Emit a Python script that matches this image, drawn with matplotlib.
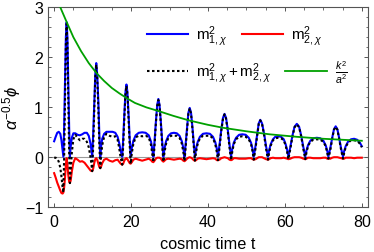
import matplotlib
matplotlib.use("Agg")
import matplotlib.pyplot as plt
import numpy as np
from matplotlib.ticker import MultipleLocator

# fonts / style close to the Mathematica look
plt.rcParams['font.family'] = 'Liberation Sans'
plt.rcParams['mathtext.fontset'] = 'custom'
plt.rcParams['mathtext.rm'] = 'Liberation Sans'
plt.rcParams['mathtext.it'] = 'Liberation Sans:italic'
plt.rcParams['mathtext.bf'] = 'Liberation Sans:bold'
plt.rcParams['axes.edgecolor'] = '#555555'
plt.rcParams['axes.linewidth'] = 0.8
plt.rcParams['xtick.color'] = '#555555'
plt.rcParams['ytick.color'] = '#555555'
plt.rcParams['xtick.labelcolor'] = 'black'
plt.rcParams['ytick.labelcolor'] = 'black'

# cosmic time samples
t = [0.0, 0.4, 0.8, 1.2, 1.6, 1.9, 2.2, 2.4,
     2.6, 2.85, 3.05, 3.25, 3.45, 3.65, 3.9, 4.1,
     4.3, 4.6, 5.0, 5.5, 6.1, 6.7, 7.3, 7.9, 8.5, 9.0, 9.5, 9.9,
     10.15, 10.45, 10.7, 10.95, 11.2, 11.5, 11.75, 12.0,
     12.2, 12.5, 13.0, 13.6, 14.4, 15.2, 15.9, 16.5, 16.9, 17.3, 17.7,
     17.95, 18.25, 18.55, 18.8, 19.05, 19.35, 19.65, 19.9,
     20.2, 20.6, 21.2, 22.0, 22.9, 23.8, 24.6, 25.2, 25.5, 25.8,
     26.1, 26.45, 26.8, 27.1, 27.4, 27.75, 28.1, 28.4,
     28.7, 29.1, 29.7, 30.4, 31.15, 31.9, 32.6, 33.2, 33.6, 33.9,
     34.2, 34.55, 34.9, 35.25, 35.6, 35.95, 36.3, 36.6,
     36.9, 37.3, 37.9, 38.7, 39.6, 40.5, 41.3, 41.9, 42.3, 42.6,
     43.0, 43.45, 43.9, 44.3, 44.7, 45.15, 45.6, 46.0,
     46.3, 46.7, 47.3, 48.1, 48.95, 49.8, 50.6, 51.2, 51.6, 51.9,
     52.35, 52.8, 53.2, 53.6, 54.05, 54.6, 55.1, 55.6,
     55.9, 56.3, 56.9, 57.5, 58.25, 59.0, 59.7, 60.2, 60.6, 60.9,
     61.4, 61.95, 62.5, 63.1, 63.7, 64.25, 64.8, 65.3,
     65.6, 66.0, 66.6, 67.4, 68.3, 69.2, 70.0, 70.6, 71.0, 71.3,
     71.8, 72.3, 72.75, 73.2, 73.65, 74.1, 74.6, 75.1,
     75.4, 75.8, 76.4, 77.2, 78.0, 78.8, 79.5, 80.0]

m1_sq = [0.31, 0.40, 0.48, 0.50, 0.46, 0.33, 0.12, 0.0,
         0.60, 1.60, 2.40, 2.70, 2.40, 1.60, 0.60, 0.0,
         0.20, 0.38, 0.47, 0.47, 0.44, 0.43, 0.45, 0.48, 0.48, 0.42, 0.25, 0.0,
         0.45, 1.10, 1.65, 1.88, 1.65, 1.10, 0.45, 0.0,
         0.20, 0.36, 0.46, 0.50, 0.50, 0.50, 0.48, 0.40, 0.28, 0.12, 0.0,
         0.35, 0.85, 1.30, 1.45, 1.30, 0.85, 0.35, 0.0,
         0.18, 0.32, 0.43, 0.48, 0.49, 0.48, 0.43, 0.30, 0.16, 0.0,
         0.30, 0.70, 1.04, 1.16, 1.04, 0.70, 0.30, 0.0,
         0.17, 0.31, 0.42, 0.47, 0.48, 0.47, 0.42, 0.31, 0.17, 0.0,
         0.27, 0.60, 0.88, 0.98, 0.88, 0.60, 0.27, 0.0,
         0.16, 0.29, 0.40, 0.46, 0.47, 0.46, 0.40, 0.29, 0.16, 0.0,
         0.24, 0.54, 0.78, 0.86, 0.78, 0.54, 0.24, 0.0,
         0.15, 0.28, 0.38, 0.44, 0.45, 0.44, 0.38, 0.28, 0.15, 0.0,
         0.21, 0.46, 0.67, 0.74, 0.67, 0.46, 0.21, 0.0,
         0.13, 0.25, 0.35, 0.40, 0.41, 0.40, 0.35, 0.25, 0.13, 0.0,
         0.19, 0.42, 0.60, 0.66, 0.60, 0.42, 0.19, 0.0,
         0.12, 0.23, 0.32, 0.37, 0.38, 0.37, 0.32, 0.23, 0.12, 0.0,
         0.17, 0.38, 0.55, 0.61, 0.55, 0.38, 0.17, 0.0,
         0.11, 0.21, 0.30, 0.35, 0.36, 0.34, 0.28, 0.21]

m2_sq = [-0.33, -0.42, -0.52, -0.60, -0.68, -0.73, -0.74, -0.72,
         -0.62, -0.40, -0.15, -0.03, -0.15, -0.35, -0.50, -0.53,
         -0.48, -0.30, -0.12, -0.03, -0.06, -0.10, -0.09, -0.12, -0.18, -0.23, -0.28, -0.29,
         -0.24, -0.12, -0.05, -0.03, -0.06, -0.14, -0.21, -0.23,
         -0.20, -0.13, -0.06, -0.04, -0.08, -0.10, -0.07, -0.06, -0.10, -0.14, -0.16,
         -0.14, -0.08, -0.04, -0.03, -0.05, -0.09, -0.13, -0.14,
         -0.11, -0.06, -0.04, -0.06, -0.08, -0.06, -0.04, -0.07, -0.10, -0.11,
         -0.08, -0.04, -0.02, -0.02, -0.02, -0.04, -0.08, -0.10,
         -0.08, -0.05, -0.04, -0.05, -0.06, -0.05, -0.04, -0.05, -0.08, -0.09,
         -0.07, -0.04, -0.02, -0.01, -0.02, -0.04, -0.07, -0.08,
         -0.07, -0.04, -0.03, -0.04, -0.05, -0.04, -0.03, -0.04, -0.07, -0.07,
         -0.06, -0.03, -0.02, -0.01, -0.02, -0.03, -0.06, -0.07,
         -0.06, -0.03, -0.03, -0.04, -0.04, -0.04, -0.03, -0.03, -0.05, -0.06,
         -0.05, -0.03, -0.01, -0.01, -0.01, -0.03, -0.05, -0.06,
         -0.05, -0.03, -0.02, -0.03, -0.03, -0.03, -0.02, -0.03, -0.04, -0.05,
         -0.04, -0.02, -0.01, -0.01, -0.01, -0.02, -0.04, -0.05,
         -0.04, -0.02, -0.02, -0.03, -0.03, -0.03, -0.02, -0.02, -0.04, -0.04,
         -0.04, -0.02, -0.01, -0.01, -0.01, -0.02, -0.03, -0.04,
         -0.04, -0.02, -0.02, -0.02, -0.03, -0.02, -0.02, -0.02]

# k^2/a^2 curve
t_k = [0.0, 0.8, 1.6, 3.0, 5.0, 7.0, 9.0, 11.0, 13.0, 15.0, 17.0, 19.0, 21.0,
       24.0, 27.0, 31.0, 35.0, 40.0, 44.0, 50.0, 56.0, 63.0, 70.0, 75.0, 80.0]
k2_a2 = [3.60, 3.25, 3.00, 2.75, 2.40, 2.12, 1.88, 1.68, 1.52, 1.38, 1.27, 1.17, 1.08,
         0.99, 0.92, 0.82, 0.73, 0.64, 0.58, 0.51, 0.45, 0.40, 0.36, 0.34, 0.32]

t = np.array(t)
m1_sq = np.array(m1_sq)
m2_sq = np.array(m2_sq)
total = m1_sq + m2_sq

fig = plt.figure(figsize=(3.74, 2.53), dpi=100)
ax = fig.add_axes([0.1283, 0.1798, 0.8556, 0.7874])

ax.axhline(0, color='#999999', lw=0.8, zorder=1)
l1, = ax.plot(t, m1_sq, color='#0000ff', lw=1.5, zorder=3)
l2, = ax.plot(t, m2_sq, color='#ff0000', lw=1.5, zorder=3)
l3, = ax.plot(t, total, color='black', lw=1.5, ls=(0, (1.2, 1.2)), zorder=4)
l4, = ax.plot(t_k, k2_a2, color='#00a000', lw=1.3, zorder=5)

ax.set_xlim(-1.6, 81.6)
ax.set_ylim(-1, 3)
ax.xaxis.set_major_locator(MultipleLocator(20))
ax.xaxis.set_minor_locator(MultipleLocator(5))
ax.yaxis.set_major_locator(MultipleLocator(1))
ax.yaxis.set_minor_locator(MultipleLocator(0.2))
ax.tick_params(which='both', direction='in', top=True, right=True, labelsize=11.5)
ax.tick_params(which='major', length=3.2, width=0.7)
ax.tick_params(which='minor', length=1.8, width=0.6)
ax.tick_params(axis='x', pad=5.5)
ax.tick_params(axis='y', pad=3.5)
ax.set_yticks([-1, 0, 1, 2, 3])
ax.set_yticklabels(['\u22121', '0', '1', '2', '3'])

ax.set_xlabel('cosmic time t', fontsize=11.7, labelpad=5)
ax.set_ylabel(r'$\alpha^{-0.5}\phi$', fontsize=12, labelpad=1)

# two legend rows, positioned like the original
kw = dict(frameon=False, ncol=2, fontsize=11, handlelength=2.7, handletextpad=0.55,
          columnspacing=0.9, borderpad=0, borderaxespad=0, loc='center left',
          bbox_transform=fig.transFigure)
leg1 = fig.legend([l1, l2], [r'$\mathrm{m}^2_{1,\chi}$', r'$\mathrm{m}^2_{2,\chi}$'],
                  bbox_to_anchor=(146.7 / 374, 1 - 36.7 / 253), **kw)
leg2 = fig.legend([l3, l4], [r'$\mathrm{m}^2_{1,\chi}+\mathrm{m}^2_{2,\chi}$', r'$\frac{k^2}{a^2}$'],
                  bbox_to_anchor=(146.7 / 374, 1 - 72.7 / 253), **kw)

fig.savefig('out.png', dpi=100)
